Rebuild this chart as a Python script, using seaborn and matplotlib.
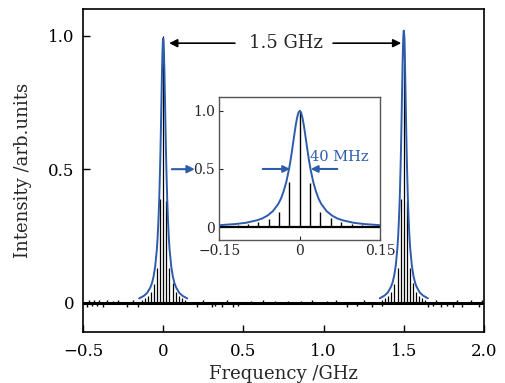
import numpy as np
import pandas as pd
import matplotlib
matplotlib.use("Agg")
import matplotlib.pyplot as plt
import seaborn as sns

# ---------------- data ----------------
peak_centers = [0.0, 1.5]            # GHz
peak_heights = [0.99, 1.02]          # fitted curve maxima
# fitted (Lorentzian-like) profile, one side: offset (GHz) -> relative value
profile_offsets = [0.0, 0.0025, 0.005, 0.0075, 0.01, 0.0125, 0.015, 0.0175, 0.02, 0.025,
                   0.03, 0.035, 0.04, 0.05, 0.06, 0.07, 0.08, 0.10, 0.12, 0.15]
profile_values = [1.0, 0.985, 0.94, 0.877, 0.80, 0.72, 0.64, 0.566, 0.50, 0.39,
                  0.31, 0.246, 0.20, 0.138, 0.10, 0.075, 0.059, 0.038, 0.027, 0.017]
# comb lines (stems) around each peak: offset (GHz) and height
comb_offsets = [-0.135, -0.116, -0.0965, -0.077, -0.058, -0.0386, -0.0193, 0.0,
                0.0193, 0.0386, 0.058, 0.077, 0.0965, 0.116, 0.135]
comb_heights = [0.012, 0.018, 0.027, 0.042, 0.072, 0.13, 0.39, 1.0,
                0.38, 0.13, 0.075, 0.042, 0.027, 0.018, 0.012]
# background noise spikes along the baseline
noise_x = [-0.475, -0.46, -0.444, -0.43, -0.413, -0.40, -0.375, -0.35, -0.31, -0.28, -0.226,
           -0.19, -0.158, 0.21, 0.25, 0.303, 0.322, 0.366, 0.40, 0.434, 0.465, 0.55, 0.62,
           0.70, 0.78, 0.86, 0.93, 1.02, 1.08, 1.144, 1.206, 1.25, 1.30, 1.362, 1.648, 1.679,
           1.70, 1.735, 1.772, 1.804, 1.83, 1.86, 1.92, 1.97, 1.99]
noise_y = [-0.014, 0.010, -0.012, 0.012, -0.013, 0.010, -0.014, 0.011, 0.009, 0.012, -0.015,
           0.010, -0.016, -0.014, 0.010, -0.015, -0.013, -0.014, 0.010, -0.015, -0.013, 0.008, 0.010,
           0.008, 0.009, 0.008, 0.010, 0.009, 0.011, -0.014, -0.013, 0.012, -0.014, -0.013, -0.014, -0.013,
           0.012, -0.015, -0.013, -0.016, 0.012, -0.014, 0.012, -0.014, 0.010]

xticks = [-0.5, 0.0, 0.5, 1.0, 1.5, 2.0]
xticklabels = ["\u22120.5", "0", "0.5", "1.0", "1.5", "2.0"]
yticks = [0.0, 0.5, 1.0]
yticklabels = ["0", "0.5", "1.0"]
inset_xticks = [-0.15, 0.0, 0.15]
inset_xticklabels = ["\u22120.15", "0", "0.15"]
inset_yticks = [0.0, 0.5, 1.0]
inset_yticklabels = ["0", "0.5", "1.0"]

BLUE = "#2d5cab"

# ---------------- build tables ----------------
prof_off = np.array(profile_offsets)
prof_val = np.array(profile_values)
side_x = np.concatenate([-prof_off[::-1], prof_off[1:]])
side_y = np.concatenate([prof_val[::-1], prof_val[1:]])

curve_rows = []
stem_rows = []
for i, (c, h) in enumerate(zip(peak_centers, peak_heights)):
    for x, y in zip(side_x, side_y):
        curve_rows.append({"peak": i, "f": c + x, "I": h * y})
    for o, s in zip(comb_offsets, comb_heights):
        stem_rows.append({"peak": i, "f": c + o, "I": s})
curve = pd.DataFrame(curve_rows)
stems = pd.DataFrame(stem_rows)
noise = pd.DataFrame({"f": noise_x, "I": noise_y})
inset_curve = pd.DataFrame({"f": side_x, "I": side_y})
inset_stems = pd.DataFrame({"f": comb_offsets, "I": comb_heights})

# ---------------- figure ----------------
sns.set_style("ticks")
plt.rcParams["font.family"] = ["DejaVu Serif"]
plt.rcParams["mathtext.fontset"] = "dejavuserif"

fig = plt.figure(figsize=(5.05, 3.83), dpi=100)
ax = fig.add_axes([0.1644, 0.1324, 0.7940, 0.8434])

ax.axhline(0, color="black", lw=2.2, zorder=2)
ax.vlines(noise["f"], 0, noise["I"], color="black", lw=1.0, zorder=2)
ax.vlines(stems["f"], 0, stems["I"], color="black", lw=0.9, zorder=2)
sns.lineplot(data=curve, x="f", y="I", units="peak", estimator=None, sort=False,
             color=BLUE, lw=1.4, ax=ax, zorder=3)

ax.set_xlim(-0.5, 2.0)
ax.set_ylim(-0.11, 1.10)
ax.set_xticks(xticks)
ax.set_xticklabels(xticklabels)
ax.set_yticks(yticks)
ax.set_yticklabels(yticklabels)
ax.tick_params(direction="in", length=5, width=1.0, labelsize=12, colors="black", pad=6)
ax.tick_params(axis="x", pad=8)
for s in ax.spines.values():
    s.set_linewidth(1.2)
    s.set_color("black")
ax.set_xlabel("Frequency /GHz", fontsize=13, labelpad=3)
ax.set_ylabel("Intensity /arb.units", fontsize=13, labelpad=12)

# 1.5 GHz annotation
ax.annotate("", xy=(0.037, 0.973), xytext=(0.447, 0.973),
            arrowprops=dict(arrowstyle="-|>", color="black", lw=1.2, mutation_scale=12,
                            shrinkA=0, shrinkB=0))
ax.annotate("", xy=(1.484, 0.973), xytext=(1.059, 0.973),
            arrowprops=dict(arrowstyle="-|>", color="black", lw=1.2, mutation_scale=12,
                            shrinkA=0, shrinkB=0))
ax.text(0.765, 0.973, "1.5 GHz", fontsize=13, ha="center", va="center")
# half-maximum pointer toward inset
ax.annotate("", xy=(0.197, 0.501), xytext=(0.054, 0.501),
            arrowprops=dict(arrowstyle="-|>", color=BLUE, lw=1.5, mutation_scale=11,
                            shrinkA=0, shrinkB=0))

# ---------------- inset ----------------
ins = fig.add_axes([0.4342, 0.3734, 0.3188, 0.3723])
ins.axhline(0, color="black", lw=1.6, zorder=2)
ins.vlines(inset_stems["f"], 0, inset_stems["I"], color="black", lw=1.0, zorder=2)
sns.lineplot(data=inset_curve, x="f", y="I", estimator=None, sort=False,
             color=BLUE, lw=1.4, ax=ins, zorder=3)
ins.set_xlim(-0.15, 0.15)
ins.set_ylim(-0.11, 1.115)
ins.set_xticks(inset_xticks)
ins.set_xticklabels(inset_xticklabels)
ins.set_yticks(inset_yticks)
ins.set_yticklabels(inset_yticklabels)
ins.tick_params(direction="in", length=3, width=0.8, labelsize=10, pad=3)
ins.set_xlabel("")
ins.set_ylabel("")
for s in ins.spines.values():
    s.set_linewidth(1.0)
    s.set_color("#555555")
ins.annotate("", xy=(-0.018, 0.5), xytext=(-0.069, 0.5),
             arrowprops=dict(arrowstyle="-|>", color=BLUE, lw=1.5, mutation_scale=10,
                             shrinkA=0, shrinkB=0))
ins.annotate("", xy=(0.0205, 0.5), xytext=(0.070, 0.5),
             arrowprops=dict(arrowstyle="-|>", color=BLUE, lw=1.5, mutation_scale=10,
                             shrinkA=0, shrinkB=0))
ins.text(0.0735, 0.605, "40 MHz", color=BLUE, fontsize=10.5, ha="center", va="center")

fig.savefig("out.png", dpi=100)
